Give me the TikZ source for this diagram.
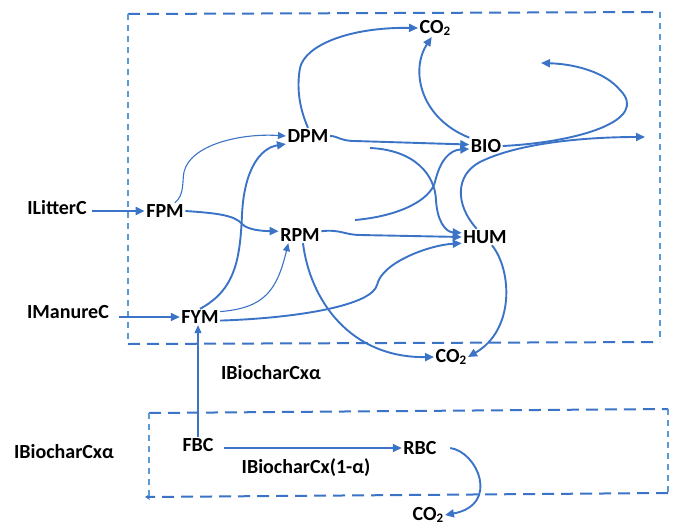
\documentclass[tikz,border=0pt]{standalone}
\usepackage{fontspec}
\setmainfont{Carlito}
\usetikzlibrary{arrows.meta}
\definecolor{ln}{HTML}{3B73C6}
\definecolor{lnl}{HTML}{5B9BD5}
\newcommand\subtwo{\raisebox{-1.5pt}{\fontsize{13}{13}\selectfont 2}}
\begin{document}
\begin{tikzpicture}[x=1pt,y=-1pt,
  lbl/.style={font=\bfseries\fontsize{20}{23}\selectfont, inner sep=1.5pt, text=black},
  flow/.style={draw=ln, line width=1.9pt, -{Triangle[length=9pt,width=8pt]}},
  flowthin/.style={draw=ln, line width=1.1pt, -{Triangle[length=8pt,width=7pt]}},
  boxh/.style={draw=ln, line width=2pt, dash pattern=on 12pt off 7pt},
  boxv/.style={draw=lnl, line width=1.3pt, dash pattern=on 6pt off 5pt}]
\useasboundingbox (0,0) rectangle (675,528);
% boxes
\draw[boxh] (128,14) -- (660,12);
\draw[boxv] (660,12) -- (660,342);
\draw[boxh] (128,344) -- (660,342);
\draw[boxv] (128,14) -- (128,344);
\draw[boxh] (149,413) -- (668,409);
\draw[boxv] (668,409) -- (668,493);
\draw[boxh, -{Stealth[length=5pt,width=6pt]}] (668,493) -- (145,497);
\draw[boxv] (149,413) -- (149,497);
% nodes
\node[lbl] (CO2t) at (435,28) {CO\subtwo};
\node[lbl] (DPM) at (308,136) {DPM};
\node[lbl] (BIO) at (486,146) {BIO};
\node[lbl] (FPM) at (165,211) {FPM};
\node[lbl] (RPM) at (300,235) {RPM};
\node[lbl] (HUM) at (485,237) {HUM};
\node[lbl] (FYM) at (200,317) {FYM};
\node[lbl] (CO2m) at (451,357) {CO\subtwo};
\node[lbl] (FBC) at (198,445) {FBC};
\node[lbl] (RBC) at (420,448) {RBC};
\node[lbl] (CO2b) at (428,515) {CO\subtwo};
\node[lbl] (ILitterC) at (57,208) {ILitterC};
\node[lbl] (IManureC) at (68,312) {IManureC};
\node[lbl] (alphaA) at (271,373) {IBiocharCxα};
\node[lbl] (alphaB) at (64,452) {IBiocharCxα};
\node[lbl] (beta) at (306,468) {IBiocharCx(1-α)};
\coordinate (f1) at (370,148);
\coordinate (f2) at (355,220);
\coordinate (loopend) at (541,63);
\coordinate (rightend) at (645,137);
% connectors
\draw[flow] (DPM.north) .. controls (298,105) and (297,85) .. (300,68) .. controls (305,45) and (350,27) .. (CO2t.west);
\draw[flow] (BIO.north west) .. controls (420,118) and (410,70) .. (CO2t.250);
\draw[flow] (DPM.east) .. controls (338,136) and (340,141) .. (355,141) -- (BIO.175);
\draw[flow] (BIO.east) .. controls (580,142) and (650,120) .. (620,90) .. controls (605,72) and (575,64) .. (loopend);
\draw[flow] (HUM.135) .. controls (455,205) and (455,175) .. (480,162) .. controls (520,142) and (590,137) .. (rightend);
\draw[flow] (f1) .. controls (415,150) and (435,175) .. (436,200) .. controls (437,220) and (445,232) .. (HUM.170);
\draw[flow] (f2) .. controls (400,216) and (430,200) .. (435,182) .. controls (440,160) and (450,150) .. (BIO.190);
\draw[flow] (FPM.east) .. controls (215,213) and (235,215) .. (242,224) .. controls (248,230) and (262,231) .. (RPM.170);
\draw[flow] (RPM.10) .. controls (340,229) and (345,235) .. (360,235) -- (HUM.west);
\draw[flow] (FYM.north) .. controls (235,290) and (240,260) .. (242,215) .. controls (244,170) and (260,148) .. (DPM.200);
\draw[flowthin] (FPM.40) .. controls (185,195) and (182,180) .. (184,172) .. controls (190,145) and (240,133) .. (DPM.west);
\draw[flowthin] (FYM.15) .. controls (265,308) and (277,290) .. (RPM.215);
\draw[flow] (FYM.-10) .. controls (300,318) and (372,305) .. (377,285) .. controls (382,262) and (430,245) .. (HUM.195);
\draw[flow] (RPM.-70) .. controls (310,300) and (350,358) .. (CO2m.west);
\draw[flow] (HUM.-50) .. controls (512,270) and (515,330) .. (CO2m.east);
\draw[flowthin] (FBC.north) -- (FBC.north |- FYM.south);
\draw[flow, shorten <=9pt] (FBC.east |- RBC.west) -- (RBC.west);
\draw[flow] ([xshift=12pt]RBC.east) .. controls (478,452) and (500,505) .. (CO2b.east);
\draw[flow, shorten <=4pt] (ILitterC.east |- FPM.west) -- (FPM.west);
\draw[flow, shorten <=8pt] (IManureC.east |- FYM.west) -- (FYM.west);
\end{tikzpicture}
\end{document}
